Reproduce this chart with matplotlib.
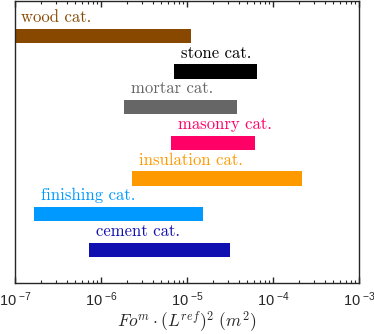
import numpy as np
import matplotlib
matplotlib.use("Agg")
import matplotlib.pyplot as plt
from matplotlib.ticker import LogLocator, FixedLocator, NullFormatter

plt.rcParams['mathtext.fontset'] = 'cm'

categories = ["wood cat.", "stone cat.", "mortar cat.", "masonry cat.",
              "insulation cat.", "finishing cat.", "cement cat."]
lows = [1.0e-7, 7.1e-6, 1.87e-6, 6.5e-6, 2.3e-6, 1.68e-7, 7.3e-7]
highs = [1.11e-5, 6.5e-5, 3.8e-5, 6.2e-5, 2.15e-4, 1.52e-5, 3.2e-5]
colors = ["#884800", "#000000", "#666666", "#FF0066", "#FF9900", "#0099FF", "#1010B0"]
tick_vals = [1e-7, 1e-6, 1e-5, 1e-4, 1e-3]
tick_labels = ["10$^{\\;\\mathregular{-7}}$", "10$^{\\;\\mathregular{-6}}$", "10$^{\\;\\mathregular{-5}}$",
               "10$^{\\;\\mathregular{-4}}$", "10$^{\\;\\mathregular{-3}}$"]

fig = plt.figure(figsize=(3.74, 3.34), dpi=100)
ax = fig.add_axes([15/374, 1 - 283/334, 344/374, 282/334])

n = len(categories)
ypos = np.arange(n, 0, -1)
for y, lo, hi, c, lab in zip(ypos, lows, highs, colors, categories):
    ax.barh(y, hi - lo, left=lo, height=0.4, color=c, edgecolor='none')
    ax.text(lo * 1.2 if lo > 1.05e-7 else 1.165e-7, y + 0.39, lab, color=c,
            fontsize=12, family='cmr10', ha='left', va='baseline')

ax.set_xscale('log')
ax.set_xlim(1e-7, 1e-3)
ax.set_ylim(0.07, 7.98)
ax.set_yticks([])
ax.xaxis.set_major_locator(FixedLocator(tick_vals))
ax.set_xticklabels(tick_labels, fontsize=10.5, family='Liberation Sans')
ax.xaxis.set_minor_locator(LogLocator(base=10, subs=np.arange(2, 10)))
ax.xaxis.set_minor_formatter(NullFormatter())
ax.tick_params(axis='x', which='major', direction='in', length=4, width=1, top=True, pad=5.5, colors='#262626')
ax.tick_params(axis='x', which='minor', direction='in', length=2, width=0.8, top=True, colors='#262626')
for s in ax.spines.values():
    s.set_linewidth(1.0)
    s.set_color('#262626')
fig.text(187/374, 1 - 322/334, r"$Fo^m \cdot (L^{ref})^2\ (m^2)$", fontsize=12.5,
         ha='center', va='center', color='#262626')

fig.savefig("out.png", dpi=100)
